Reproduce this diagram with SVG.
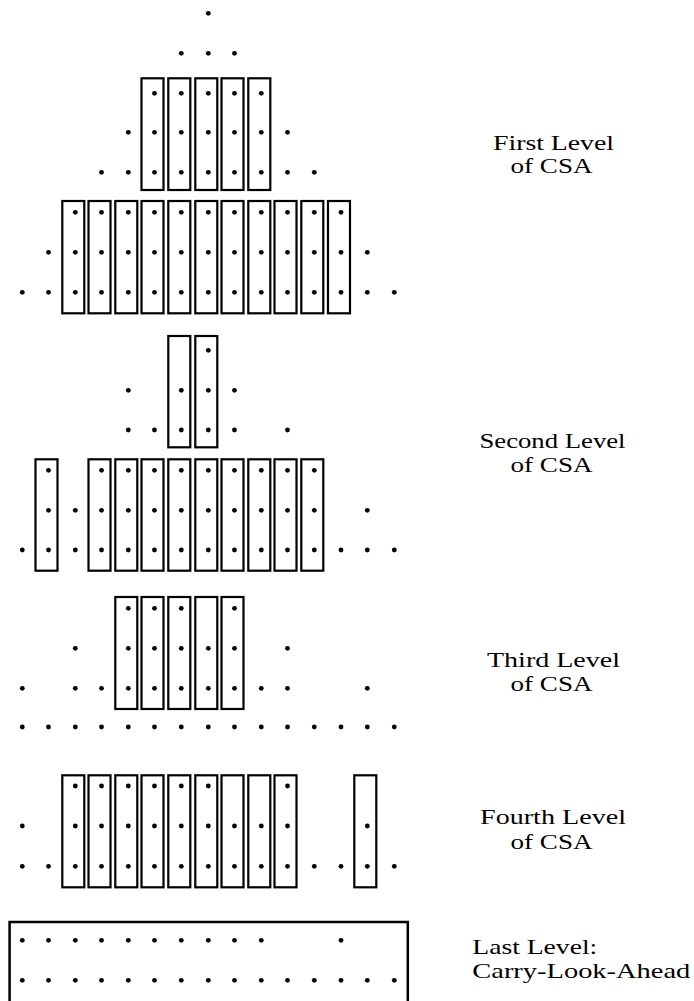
<svg xmlns="http://www.w3.org/2000/svg" xmlns:xlink="http://www.w3.org/1999/xlink" width="694" height="1001" viewBox="0 0 694 1001">
  <style>
    .bg { fill: #ffffff; }
    .box { fill: none; stroke: #000000; stroke-width: 2.2; }
    .big { fill: none; stroke: #000000; stroke-width: 2.5; }
    .lbl { font-family: "Liberation Serif", "DejaVu Serif", serif; font-size: 22px; fill: #000000; }
    .mid { text-anchor: middle; }
  </style>
  <defs>
    <circle id="dot" r="2.4" fill="#000000"/>
  </defs>
  <rect class="bg" x="0" y="0" width="694" height="1001"/>

  <!-- Column positions (bit weights, right to left): 22.3 48.5 75.3 101.5 128.3 154.5 181.3 208.3 234.5 261.3 287.5 314.3 341 367.3 394.3 -->

  <!-- First level of carry-save adders -->
  <g id="level1">
    <g id="level1-boxes">
      <rect class="box" x="141.5" y="78.3" width="22" height="111.7"/>
      <rect class="box" x="168.3" y="78.3" width="22" height="111.7"/>
      <rect class="box" x="195.3" y="78.3" width="22" height="111.7"/>
      <rect class="box" x="221.5" y="78.3" width="22" height="111.7"/>
      <rect class="box" x="248.3" y="78.3" width="22" height="111.7"/>

      <rect class="box" x="62.3" y="201" width="22" height="112.3"/>
      <rect class="box" x="88.5" y="201" width="22" height="112.3"/>
      <rect class="box" x="115.3" y="201" width="22" height="112.3"/>
      <rect class="box" x="141.5" y="201" width="22" height="112.3"/>
      <rect class="box" x="168.3" y="201" width="22" height="112.3"/>
      <rect class="box" x="195.3" y="201" width="22" height="112.3"/>
      <rect class="box" x="221.5" y="201" width="22" height="112.3"/>
      <rect class="box" x="248.3" y="201" width="22" height="112.3"/>
      <rect class="box" x="274.5" y="201" width="22" height="112.3"/>
      <rect class="box" x="301.3" y="201" width="22" height="112.3"/>
      <rect class="box" x="328" y="201" width="22" height="112.3"/>
    </g>
    <g id="level1-dots">
      <use xlink:href="#dot" x="208.3" y="13.3"/>

      <use xlink:href="#dot" x="181.3" y="53.3"/>
      <use xlink:href="#dot" x="208.3" y="53.3"/>
      <use xlink:href="#dot" x="234.5" y="53.3"/>

      <use xlink:href="#dot" x="154.5" y="93.3"/>
      <use xlink:href="#dot" x="181.3" y="93.3"/>
      <use xlink:href="#dot" x="208.3" y="93.3"/>
      <use xlink:href="#dot" x="234.5" y="93.3"/>
      <use xlink:href="#dot" x="261.3" y="93.3"/>

      <use xlink:href="#dot" x="128.3" y="132.3"/>
      <use xlink:href="#dot" x="154.5" y="132.3"/>
      <use xlink:href="#dot" x="181.3" y="132.3"/>
      <use xlink:href="#dot" x="208.3" y="132.3"/>
      <use xlink:href="#dot" x="234.5" y="132.3"/>
      <use xlink:href="#dot" x="261.3" y="132.3"/>
      <use xlink:href="#dot" x="287.5" y="132.3"/>

      <use xlink:href="#dot" x="101.5" y="172.3"/>
      <use xlink:href="#dot" x="128.3" y="172.3"/>
      <use xlink:href="#dot" x="154.5" y="172.3"/>
      <use xlink:href="#dot" x="181.3" y="172.3"/>
      <use xlink:href="#dot" x="208.3" y="172.3"/>
      <use xlink:href="#dot" x="234.5" y="172.3"/>
      <use xlink:href="#dot" x="261.3" y="172.3"/>
      <use xlink:href="#dot" x="287.5" y="172.3"/>
      <use xlink:href="#dot" x="314.3" y="172.3"/>

      <use xlink:href="#dot" x="75.3" y="212.3"/>
      <use xlink:href="#dot" x="101.5" y="212.3"/>
      <use xlink:href="#dot" x="128.3" y="212.3"/>
      <use xlink:href="#dot" x="154.5" y="212.3"/>
      <use xlink:href="#dot" x="181.3" y="212.3"/>
      <use xlink:href="#dot" x="208.3" y="212.3"/>
      <use xlink:href="#dot" x="234.5" y="212.3"/>
      <use xlink:href="#dot" x="261.3" y="212.3"/>
      <use xlink:href="#dot" x="287.5" y="212.3"/>
      <use xlink:href="#dot" x="314.3" y="212.3"/>
      <use xlink:href="#dot" x="341" y="212.3"/>

      <use xlink:href="#dot" x="48.5" y="252.3"/>
      <use xlink:href="#dot" x="75.3" y="252.3"/>
      <use xlink:href="#dot" x="101.5" y="252.3"/>
      <use xlink:href="#dot" x="128.3" y="252.3"/>
      <use xlink:href="#dot" x="154.5" y="252.3"/>
      <use xlink:href="#dot" x="181.3" y="252.3"/>
      <use xlink:href="#dot" x="208.3" y="252.3"/>
      <use xlink:href="#dot" x="234.5" y="252.3"/>
      <use xlink:href="#dot" x="261.3" y="252.3"/>
      <use xlink:href="#dot" x="287.5" y="252.3"/>
      <use xlink:href="#dot" x="314.3" y="252.3"/>
      <use xlink:href="#dot" x="341" y="252.3"/>
      <use xlink:href="#dot" x="367.3" y="252.3"/>

      <use xlink:href="#dot" x="22.3" y="292.3"/>
      <use xlink:href="#dot" x="48.5" y="292.3"/>
      <use xlink:href="#dot" x="75.3" y="292.3"/>
      <use xlink:href="#dot" x="101.5" y="292.3"/>
      <use xlink:href="#dot" x="128.3" y="292.3"/>
      <use xlink:href="#dot" x="154.5" y="292.3"/>
      <use xlink:href="#dot" x="181.3" y="292.3"/>
      <use xlink:href="#dot" x="208.3" y="292.3"/>
      <use xlink:href="#dot" x="234.5" y="292.3"/>
      <use xlink:href="#dot" x="261.3" y="292.3"/>
      <use xlink:href="#dot" x="287.5" y="292.3"/>
      <use xlink:href="#dot" x="314.3" y="292.3"/>
      <use xlink:href="#dot" x="341" y="292.3"/>
      <use xlink:href="#dot" x="367.3" y="292.3"/>
      <use xlink:href="#dot" x="394.3" y="292.3"/>
    </g>
  </g>

  <!-- Second level -->
  <g id="level2">
    <g id="level2-boxes">
      <rect class="box" x="168.3" y="336" width="22" height="111.3"/>
      <rect class="box" x="195.3" y="336" width="22" height="111.3"/>

      <rect class="box" x="35.5" y="459.3" width="22" height="111.4"/>
      <rect class="box" x="88.5" y="459.3" width="22" height="111.4"/>
      <rect class="box" x="115.3" y="459.3" width="22" height="111.4"/>
      <rect class="box" x="141.5" y="459.3" width="22" height="111.4"/>
      <rect class="box" x="168.3" y="459.3" width="22" height="111.4"/>
      <rect class="box" x="195.3" y="459.3" width="22" height="111.4"/>
      <rect class="box" x="221.5" y="459.3" width="22" height="111.4"/>
      <rect class="box" x="248.3" y="459.3" width="22" height="111.4"/>
      <rect class="box" x="274.5" y="459.3" width="22" height="111.4"/>
      <rect class="box" x="301.3" y="459.3" width="22" height="111.4"/>
    </g>
    <g id="level2-dots">
      <use xlink:href="#dot" x="208.3" y="350.3"/>

      <use xlink:href="#dot" x="128.3" y="390.3"/>
      <use xlink:href="#dot" x="181.3" y="390.3"/>
      <use xlink:href="#dot" x="208.3" y="390.3"/>
      <use xlink:href="#dot" x="234.5" y="390.3"/>

      <use xlink:href="#dot" x="128.3" y="430"/>
      <use xlink:href="#dot" x="154.5" y="430"/>
      <use xlink:href="#dot" x="181.3" y="430"/>
      <use xlink:href="#dot" x="208.3" y="430"/>
      <use xlink:href="#dot" x="234.5" y="430"/>
      <use xlink:href="#dot" x="287.5" y="430"/>

      <use xlink:href="#dot" x="48.5" y="470.3"/>
      <use xlink:href="#dot" x="101.5" y="470.3"/>
      <use xlink:href="#dot" x="128.3" y="470.3"/>
      <use xlink:href="#dot" x="154.5" y="470.3"/>
      <use xlink:href="#dot" x="181.3" y="470.3"/>
      <use xlink:href="#dot" x="208.3" y="470.3"/>
      <use xlink:href="#dot" x="234.5" y="470.3"/>
      <use xlink:href="#dot" x="261.3" y="470.3"/>
      <use xlink:href="#dot" x="287.5" y="470.3"/>
      <use xlink:href="#dot" x="314.3" y="470.3"/>

      <use xlink:href="#dot" x="48.5" y="510.3"/>
      <use xlink:href="#dot" x="75.3" y="510.3"/>
      <use xlink:href="#dot" x="101.5" y="510.3"/>
      <use xlink:href="#dot" x="128.3" y="510.3"/>
      <use xlink:href="#dot" x="154.5" y="510.3"/>
      <use xlink:href="#dot" x="181.3" y="510.3"/>
      <use xlink:href="#dot" x="208.3" y="510.3"/>
      <use xlink:href="#dot" x="234.5" y="510.3"/>
      <use xlink:href="#dot" x="261.3" y="510.3"/>
      <use xlink:href="#dot" x="287.5" y="510.3"/>
      <use xlink:href="#dot" x="314.3" y="510.3"/>
      <use xlink:href="#dot" x="367.3" y="510.3"/>

      <use xlink:href="#dot" x="22.3" y="550"/>
      <use xlink:href="#dot" x="48.5" y="550"/>
      <use xlink:href="#dot" x="75.3" y="550"/>
      <use xlink:href="#dot" x="101.5" y="550"/>
      <use xlink:href="#dot" x="128.3" y="550"/>
      <use xlink:href="#dot" x="154.5" y="550"/>
      <use xlink:href="#dot" x="181.3" y="550"/>
      <use xlink:href="#dot" x="208.3" y="550"/>
      <use xlink:href="#dot" x="234.5" y="550"/>
      <use xlink:href="#dot" x="261.3" y="550"/>
      <use xlink:href="#dot" x="287.5" y="550"/>
      <use xlink:href="#dot" x="314.3" y="550"/>
      <use xlink:href="#dot" x="341" y="550"/>
      <use xlink:href="#dot" x="367.3" y="550"/>
      <use xlink:href="#dot" x="394.3" y="550"/>
    </g>
  </g>

  <!-- Third level -->
  <g id="level3">
    <g id="level3-boxes">
      <rect class="box" x="115.3" y="597" width="22" height="112"/>
      <rect class="box" x="141.5" y="597" width="22" height="112"/>
      <rect class="box" x="168.3" y="597" width="22" height="112"/>
      <rect class="box" x="195.3" y="597" width="22" height="112"/>
      <rect class="box" x="221.5" y="597" width="22" height="112"/>
    </g>
    <g id="level3-dots">
      <use xlink:href="#dot" x="128.3" y="608.3"/>
      <use xlink:href="#dot" x="154.5" y="608.3"/>
      <use xlink:href="#dot" x="181.3" y="608.3"/>
      <use xlink:href="#dot" x="234.5" y="608.3"/>

      <use xlink:href="#dot" x="75.3" y="648.3"/>
      <use xlink:href="#dot" x="128.3" y="648.3"/>
      <use xlink:href="#dot" x="154.5" y="648.3"/>
      <use xlink:href="#dot" x="181.3" y="648.3"/>
      <use xlink:href="#dot" x="208.3" y="648.3"/>
      <use xlink:href="#dot" x="234.5" y="648.3"/>
      <use xlink:href="#dot" x="287.5" y="648.3"/>

      <use xlink:href="#dot" x="22.3" y="688.3"/>
      <use xlink:href="#dot" x="75.3" y="688.3"/>
      <use xlink:href="#dot" x="101.5" y="688.3"/>
      <use xlink:href="#dot" x="128.3" y="688.3"/>
      <use xlink:href="#dot" x="154.5" y="688.3"/>
      <use xlink:href="#dot" x="181.3" y="688.3"/>
      <use xlink:href="#dot" x="208.3" y="688.3"/>
      <use xlink:href="#dot" x="234.5" y="688.3"/>
      <use xlink:href="#dot" x="261.3" y="688.3"/>
      <use xlink:href="#dot" x="287.5" y="688.3"/>
      <use xlink:href="#dot" x="367.3" y="688.3"/>

      <use xlink:href="#dot" x="22.3" y="727"/>
      <use xlink:href="#dot" x="48.5" y="727"/>
      <use xlink:href="#dot" x="75.3" y="727"/>
      <use xlink:href="#dot" x="101.5" y="727"/>
      <use xlink:href="#dot" x="128.3" y="727"/>
      <use xlink:href="#dot" x="154.5" y="727"/>
      <use xlink:href="#dot" x="181.3" y="727"/>
      <use xlink:href="#dot" x="208.3" y="727"/>
      <use xlink:href="#dot" x="234.5" y="727"/>
      <use xlink:href="#dot" x="261.3" y="727"/>
      <use xlink:href="#dot" x="287.5" y="727"/>
      <use xlink:href="#dot" x="314.3" y="727"/>
      <use xlink:href="#dot" x="341" y="727"/>
      <use xlink:href="#dot" x="367.3" y="727"/>
      <use xlink:href="#dot" x="394.3" y="727"/>
    </g>
  </g>

  <!-- Fourth level -->
  <g id="level4">
    <g id="level4-boxes">
      <rect class="box" x="62.3" y="775.3" width="22" height="112"/>
      <rect class="box" x="88.5" y="775.3" width="22" height="112"/>
      <rect class="box" x="115.3" y="775.3" width="22" height="112"/>
      <rect class="box" x="141.5" y="775.3" width="22" height="112"/>
      <rect class="box" x="168.3" y="775.3" width="22" height="112"/>
      <rect class="box" x="195.3" y="775.3" width="22" height="112"/>
      <rect class="box" x="221.5" y="775.3" width="22" height="112"/>
      <rect class="box" x="248.3" y="775.3" width="22" height="112"/>
      <rect class="box" x="274.5" y="775.3" width="22" height="112"/>
      <rect class="box" x="354.3" y="775.3" width="22" height="112"/>
    </g>
    <g id="level4-dots">
      <use xlink:href="#dot" x="75.3" y="786"/>
      <use xlink:href="#dot" x="101.5" y="786"/>
      <use xlink:href="#dot" x="128.3" y="786"/>
      <use xlink:href="#dot" x="154.5" y="786"/>
      <use xlink:href="#dot" x="181.3" y="786"/>
      <use xlink:href="#dot" x="208.3" y="786"/>
      <use xlink:href="#dot" x="287.5" y="786"/>

      <use xlink:href="#dot" x="22.3" y="826"/>
      <use xlink:href="#dot" x="75.3" y="826"/>
      <use xlink:href="#dot" x="101.5" y="826"/>
      <use xlink:href="#dot" x="128.3" y="826"/>
      <use xlink:href="#dot" x="154.5" y="826"/>
      <use xlink:href="#dot" x="181.3" y="826"/>
      <use xlink:href="#dot" x="208.3" y="826"/>
      <use xlink:href="#dot" x="234.5" y="826"/>
      <use xlink:href="#dot" x="261.3" y="826"/>
      <use xlink:href="#dot" x="287.5" y="826"/>
      <use xlink:href="#dot" x="367.3" y="826"/>

      <use xlink:href="#dot" x="22.3" y="866.3"/>
      <use xlink:href="#dot" x="48.5" y="866.3"/>
      <use xlink:href="#dot" x="75.3" y="866.3"/>
      <use xlink:href="#dot" x="101.5" y="866.3"/>
      <use xlink:href="#dot" x="128.3" y="866.3"/>
      <use xlink:href="#dot" x="154.5" y="866.3"/>
      <use xlink:href="#dot" x="181.3" y="866.3"/>
      <use xlink:href="#dot" x="208.3" y="866.3"/>
      <use xlink:href="#dot" x="234.5" y="866.3"/>
      <use xlink:href="#dot" x="261.3" y="866.3"/>
      <use xlink:href="#dot" x="287.5" y="866.3"/>
      <use xlink:href="#dot" x="314.3" y="866.3"/>
      <use xlink:href="#dot" x="341" y="866.3"/>
      <use xlink:href="#dot" x="367.3" y="866.3"/>
      <use xlink:href="#dot" x="394.3" y="866.3"/>
    </g>
  </g>

  <!-- Final carry-look-ahead adder (box continues below the page edge) -->
  <g id="level5">
    <rect class="big" x="9.6" y="922" width="398.2" height="120"/>
    <g id="level5-dots">
      <use xlink:href="#dot" x="22.3" y="940.3"/>
      <use xlink:href="#dot" x="48.5" y="940.3"/>
      <use xlink:href="#dot" x="75.3" y="940.3"/>
      <use xlink:href="#dot" x="101.5" y="940.3"/>
      <use xlink:href="#dot" x="128.3" y="940.3"/>
      <use xlink:href="#dot" x="154.5" y="940.3"/>
      <use xlink:href="#dot" x="181.3" y="940.3"/>
      <use xlink:href="#dot" x="208.3" y="940.3"/>
      <use xlink:href="#dot" x="234.5" y="940.3"/>
      <use xlink:href="#dot" x="261.3" y="940.3"/>
      <use xlink:href="#dot" x="341" y="940.3"/>

      <use xlink:href="#dot" x="22.3" y="980.3"/>
      <use xlink:href="#dot" x="48.5" y="980.3"/>
      <use xlink:href="#dot" x="75.3" y="980.3"/>
      <use xlink:href="#dot" x="101.5" y="980.3"/>
      <use xlink:href="#dot" x="128.3" y="980.3"/>
      <use xlink:href="#dot" x="154.5" y="980.3"/>
      <use xlink:href="#dot" x="181.3" y="980.3"/>
      <use xlink:href="#dot" x="208.3" y="980.3"/>
      <use xlink:href="#dot" x="234.5" y="980.3"/>
      <use xlink:href="#dot" x="261.3" y="980.3"/>
      <use xlink:href="#dot" x="287.5" y="980.3"/>
      <use xlink:href="#dot" x="314.3" y="980.3"/>
      <use xlink:href="#dot" x="341" y="980.3"/>
      <use xlink:href="#dot" x="367.3" y="980.3"/>
      <use xlink:href="#dot" x="394.3" y="980.3"/>
    </g>
  </g>

  <!-- Level captions -->
  <g id="label1">
    <text class="lbl mid" x="553.5" y="149.5" textLength="121" lengthAdjust="spacingAndGlyphs">First Level</text>
    <text class="lbl mid" x="551.5" y="172.5" textLength="82" lengthAdjust="spacingAndGlyphs">of CSA</text>
  </g>
  <g id="label2">
    <text class="lbl mid" x="552.5" y="448" textLength="146" lengthAdjust="spacingAndGlyphs">Second Level</text>
    <text class="lbl mid" x="551.5" y="471.5" textLength="82" lengthAdjust="spacingAndGlyphs">of CSA</text>
  </g>
  <g id="label3">
    <text class="lbl mid" x="553.5" y="666.5" textLength="133" lengthAdjust="spacingAndGlyphs">Third Level</text>
    <text class="lbl mid" x="551.5" y="690.5" textLength="82" lengthAdjust="spacingAndGlyphs">of CSA</text>
  </g>
  <g id="label4">
    <text class="lbl mid" x="553" y="823.5" textLength="146" lengthAdjust="spacingAndGlyphs">Fourth Level</text>
    <text class="lbl mid" x="551.5" y="848.5" textLength="82" lengthAdjust="spacingAndGlyphs">of CSA</text>
  </g>
  <g id="label5">
    <text class="lbl" x="472.3" y="953.5" textLength="125" lengthAdjust="spacingAndGlyphs">Last Level:</text>
    <text class="lbl" x="472.3" y="977.5" textLength="218" lengthAdjust="spacingAndGlyphs">Carry-Look-Ahead</text>
  </g>
</svg>
